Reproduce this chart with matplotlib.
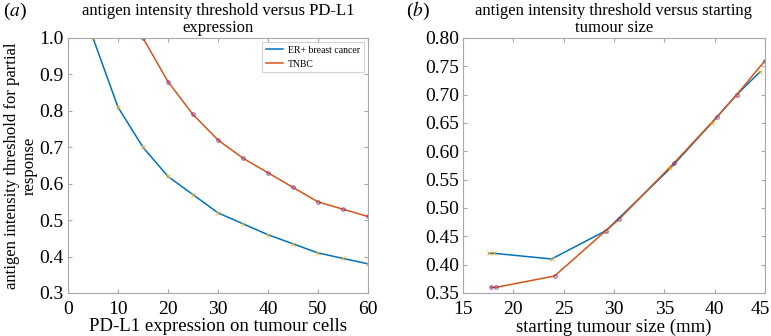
import matplotlib
matplotlib.use('Agg')
import matplotlib.pyplot as plt
import matplotlib.transforms as mtransforms

plt.rcParams['font.family'] = ['Liberation Serif', 'DejaVu Serif']
plt.rcParams['mathtext.fontset'] = 'stix'

# panel (a): threshold versus PD-L1 expression
pdl1_er = [5, 10, 15, 20, 25, 30, 35, 40, 45, 50, 55, 60]
thr_er = [1.0, 0.81, 0.70, 0.62, 0.57, 0.52, 0.49, 0.46, 0.435, 0.41, 0.395, 0.38]
pdl1_tnbc = [15, 20, 25, 30, 35, 40, 45, 50, 55, 60]
thr_tnbc = [1.0, 0.88, 0.79, 0.72, 0.67, 0.63, 0.59, 0.55, 0.53, 0.51]

# panel (b): threshold versus starting tumour size
size_er = [17.6, 18.1, 23.8, 29.2, 35.6, 39.7, 42.2, 44.5]
thr_size_er = [0.42, 0.42, 0.41, 0.46, 0.57, 0.65, 0.70, 0.74]
size_tnbc = [17.8, 18.3, 24.1, 29.2, 30.5, 36.0, 40.2, 42.2, 45.0]
thr_size_tnbc = [0.36, 0.36, 0.38, 0.46, 0.48, 0.58, 0.66, 0.70, 0.76]

blue = '#0072BD'
orange = '#D95319'
yellow = '#EDB120'
purple = '#7E2F8E'
spine = '#a8a8a8'

fig = plt.figure(figsize=(7.71, 3.36), dpi=100)
ax1 = fig.add_axes([0.0882, 0.128, 0.389, 0.759])
ax2 = fig.add_axes([0.6005, 0.128, 0.3917, 0.759])


def style(ax):
    for s in ax.spines.values():
        s.set_color(spine)
        s.set_linewidth(0.8)
    ax.tick_params(direction='in', top=True, right=True, length=3,
                   color=spine, labelsize=14, pad=3)
    ax.tick_params(axis='x', pad=6)


ax1.plot(pdl1_er, thr_er, color=blue, lw=1.1, label='ER+ breast cancer')
ax1.plot(pdl1_tnbc, thr_tnbc, color=orange, lw=1.1, label='TNBC')
ax1.plot(pdl1_er, thr_er, ls='none', marker='x', ms=2.5, mew=0.6, color=yellow)
ax1.plot(pdl1_tnbc, thr_tnbc, ls='none', marker='o', ms=2.5, mew=0.6,
         mfc='none', color=purple)
ax1.set_xlim(0, 60)
ax1.set_ylim(0.3, 1.0)
ax1.set_xticks([0, 10, 20, 30, 40, 50, 60])
ax1.set_yticks([0.3, 0.4, 0.5, 0.6, 0.7, 0.8, 0.9, 1.0])
ax1.set_yticklabels(['0.3', '0.4', '0.5', '0.6', '0.7', '0.8', '0.9', '1.0'])
ax1.set_xlabel('PD-L1 expression on tumour cells', fontsize=13.5, labelpad=0)
ax1.set_ylabel('antigen intensity threshold for partial\nresponse', fontsize=12,
               linespacing=1.15)
ax1.yaxis.set_label_coords(-0.1, 0.5)
ax1.set_title('antigen intensity threshold versus PD-L1\nexpression', fontsize=12,
              pad=4, linespacing=1.1)
style(ax1)
leg = ax1.legend(loc='upper right', fontsize=7, frameon=True, fancybox=False,
                 handlelength=1.8, borderaxespad=0.4, borderpad=0.4,
                 labelspacing=0.5, handletextpad=0.5)
leg.get_frame().set_edgecolor('#c8c8c8')
leg.get_frame().set_linewidth(0.8)

ax2.plot(size_er, thr_size_er, color=blue, lw=1.1)
ax2.plot(size_tnbc, thr_size_tnbc, color=orange, lw=1.1)
ax2.plot(size_er, thr_size_er, ls='none', marker='x', ms=2.5, mew=0.6, color=yellow)
ax2.plot(size_tnbc, thr_size_tnbc, ls='none', marker='o', ms=2.5, mew=0.6,
         mfc='none', color=purple)
ax2.set_xlim(15, 45)
ax2.set_ylim(0.35, 0.80)
ax2.set_xticks([15, 20, 25, 30, 35, 40, 45])
ax2.set_yticks([0.35, 0.40, 0.45, 0.50, 0.55, 0.60, 0.65, 0.70, 0.75, 0.80])
ax2.set_yticklabels(['%.2f' % v for v in ax2.get_yticks()])
ax2.set_xlabel('starting tumour size (mm)', fontsize=13.5, labelpad=0)
ax2.set_title('antigen intensity threshold versus starting\ntumour size', fontsize=12,
              pad=4, linespacing=1.1)
style(ax2)

# nudge the last x tick label in so it stays inside the figure
last = ax2.get_xticklabels()[-1]
last.set_transform(last.get_transform() +
                   mtransforms.ScaledTranslation(-5 / 100, 0, fig.dpi_scale_trans))

fig.text(0.004, 0.952, '($a$)', fontsize=14)
fig.text(0.527, 0.952, '($b$)', fontsize=14)

fig.savefig('out.png', dpi=100)
